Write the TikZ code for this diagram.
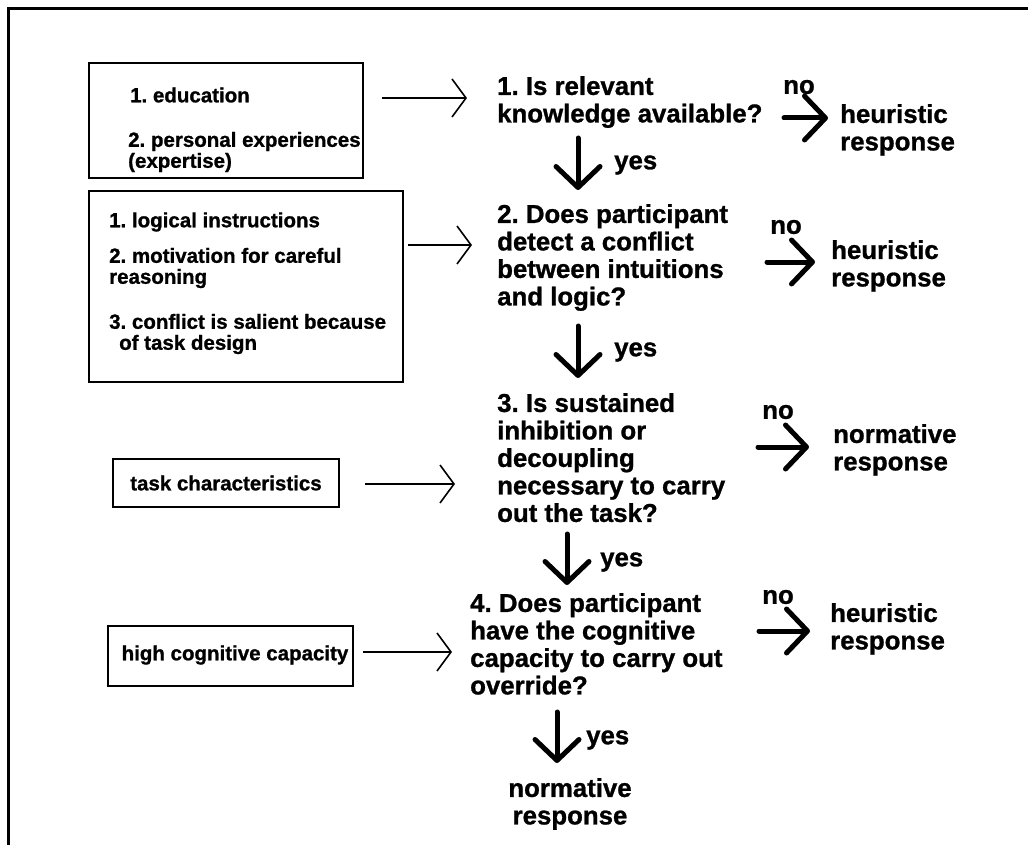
\documentclass[tikz,border=0pt]{standalone}
\usepackage{fontspec}
\setmainfont{Liberation Sans}[BoldFeatures={FakeBold=1}]
\usetikzlibrary{arrows.meta}
\newcommand\bigfnt{\fontsize{25.8}{27.5}\selectfont\bfseries\frenchspacing}
\newcommand\smfnt{\fontsize{20.5}{21}\selectfont\bfseries\frenchspacing}
\begin{document}
\begin{tikzpicture}[x=1pt,y=-1pt,
  box/.style={draw, line width=2pt, anchor=north west, inner sep=0pt},
  smt/.style={font=\smfnt, inner sep=0pt, anchor=west, align=left},
  bigt/.style={font=\bigfnt, inner sep=0pt, anchor=north west, align=left},
  lab/.style={font=\bigfnt, inner sep=0pt},
  inarrow/.style={line width=1.6pt, -{Straight Barb[length=14pt,width=38pt]}},
  bigarrow/.style={line width=5pt, line cap=round, -{Straight Barb[round,length=21pt,width=44pt]}}
]
\useasboundingbox (0,0) rectangle (1028,845);
\fill[white] (0,0) rectangle (1028,845);
% frame
\draw[line width=3pt] (8,845) -- (8,9) -- (1028,9);

% boxes
\node[box, minimum width=274pt, minimum height=115pt] (b1) at (88,62) {};
\node[box, minimum width=314pt, minimum height=191pt] (b2) at (88,190) {};
\node[box, minimum width=226pt, minimum height=48pt] (b3) at (112,458) {};
\node[box, minimum width=245pt, minimum height=60pt] (b4) at (107,625) {};

% box texts
\node[smt] (e1) at (130,95) {1. education};
\node[smt] (e2) at (128,152) {2. personal experiences\\(expertise)};
\node[smt] (l1) at (109,222) {1. logical instructions};
\node[smt] (l2) at (109,268) {2. motivation for careful\\reasoning};
\node[smt] (l3) at (109,334) {3. conflict is salient because\\\hspace*{10pt}of task design};
\node[smt, anchor=center] (tc) at (226,483) {task characteristics};
\node[smt, anchor=center] (hc) at (235,655) {high cognitive capacity};

% questions
\node[bigt] (q1) at (497,76) {1. Is relevant\\knowledge available?};
\node[bigt] (q2) at (497,204) {2. Does participant\\detect a conflict\\between intuitions\\and logic?};
\node[bigt] (q3) at (497,393) {3. Is sustained\\inhibition or\\decoupling\\necessary to carry\\out the task?};
\node[bigt] (q4) at (470,593) {4. Does participant\\have the cognitive\\capacity to carry out\\override?};
\node[bigt, anchor=north, align=center] (fin) at (570,778) {normative\\response};

% outcomes
\node[bigt] (o1) at (840,104) {heuristic\\response};
\node[bigt] (o2) at (831,240) {heuristic\\response};
\node[bigt] (o3) at (833,424) {normative\\response};
\node[bigt] (o4) at (830,603) {heuristic\\response};

% labels
\node[lab] (n1) at (799,87) {no};
\node[lab] (n2) at (786,227) {no};
\node[lab] (n3) at (778,412) {no};
\node[lab] (n4) at (778,597) {no};
\node[lab, anchor=west] (y1) at (614,165) {yes};
\node[lab, anchor=west] (y2) at (614,352) {yes};
\node[lab, anchor=west] (y3) at (600,562) {yes};
\node[lab, anchor=west] (y4) at (586,740) {yes};

% arrow end points
\coordinate (ia1) at (382,98);  \coordinate (ib1) at (467,98);
\coordinate (ia2) at (408,245); \coordinate (ib2) at (472,245);
\coordinate (ia3) at (365,484); \coordinate (ib3) at (455,484);
\coordinate (ia4) at (363,652); \coordinate (ib4) at (452,652);

\coordinate (na1) at (784,118); \coordinate (nb1) at (828,118);
\coordinate (na2) at (767,262); \coordinate (nb2) at (815,262);
\coordinate (na3) at (758,447); \coordinate (nb3) at (809,447);
\coordinate (na4) at (759,631); \coordinate (nb4) at (810,631);

\coordinate (ya1) at (578,138); \coordinate (yb1) at (578,190);
\coordinate (ya2) at (578,326); \coordinate (yb2) at (578,378);
\coordinate (ya3) at (567,534); \coordinate (yb3) at (567,585);
\coordinate (ya4) at (557,712); \coordinate (yb4) at (557,763);

\foreach \i in {1,2,3,4}{
  \draw[inarrow] (ia\i) -- (ib\i);
  \draw[bigarrow] (na\i) -- (nb\i);
  \draw[bigarrow] (ya\i) -- (yb\i);
}
\end{tikzpicture}
\end{document}
